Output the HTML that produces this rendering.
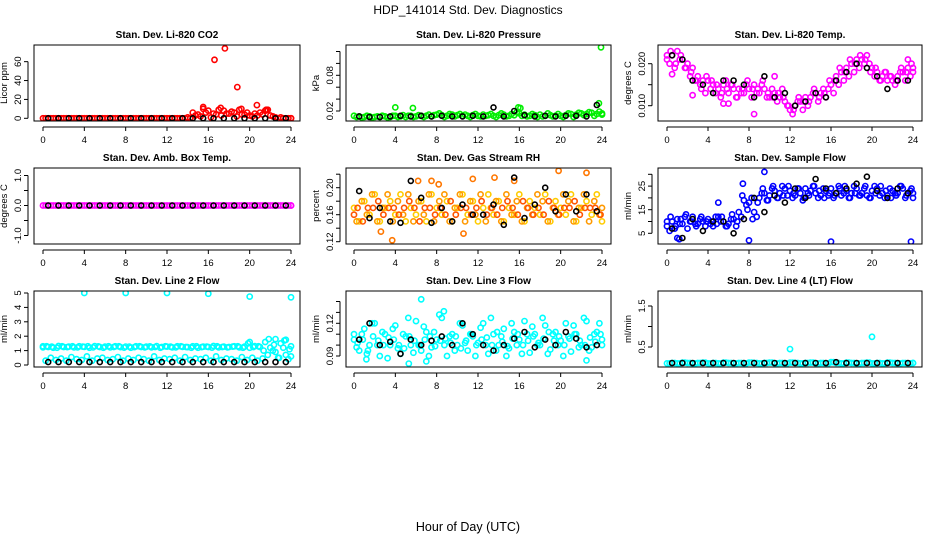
<!DOCTYPE html>
<html><head><meta charset="utf-8"><style>
body{margin:0;background:#fff;}
svg{display:block;font-family:"Liberation Sans",sans-serif;}
</style></head><body>
<svg id="chart" width="936" height="540" viewBox="0 0 936 540" xmlns="http://www.w3.org/2000/svg">
<text x="468" y="14" text-anchor="middle" font-size="12">HDP_141014  Std. Dev. Diagnostics</text>
<text x="468" y="531" text-anchor="middle" font-size="12.5">Hour of Day (UTC)</text>
<g id="plots"></g>
</svg>
<script>
const hours49=[0,0.5,1,1.5,2,2.5,3,3.5,4,4.5,5,5.5,6,6.5,7,7.5,8,8.5,9,9.5,10,10.5,11,11.5,12,12.5,13,13.5,14,14.5,15,15.5,16,16.5,17,17.5,18,18.5,19,19.5,20,20.5,21,21.5,22,22.5,23,23.5,24];
const hours24=[0.5,1.5,2.5,3.5,4.5,5.5,6.5,7.5,8.5,9.5,10.5,11.5,12.5,13.5,14.5,15.5,16.5,17.5,18.5,19.5,20.5,21.5,22.5,23.5];
const xTicks=[0,4,8,12,16,20,24];

// CO2
const co2A=[0,0,0,0,0,0,0,0,0,0,0,0,0,0,0,0,0,0,0,0,0,0,0,0,0,0,0,0,1,6,4,10,8,5,9,8,5,6,9,4,3,5,6,8,3,1,1,0,0];
const co2B=[0,0,0,0,0,0,0,0,0,0,0,0,0,0,0,0,0,0,0,0,0,0,0,0,0,0,0,0,0,3,2,6,1,4,3,5,7,2,4,6,2,3,4,9,2,0,0,0,0];
const co2OutT=[16.6,17.6,18.8,20.7,15.5,17.2,19.2,21.6];
const co2OutV=[62,74,33,14,12,11,10,9];
const co2Black=[0,0,0,0,0,0,0,0,0,0,0,0,0,0,0,0,0,0,0,0,0,0,0,0];
// Pressure
const presA=[0.012,0.011,0.010,0.011,0.010,0.010,0.011,0.010,0.012,0.011,0.010,0.012,0.011,0.012,0.012,0.011,0.014,0.013,0.012,0.014,0.013,0.012,0.012,0.013,0.012,0.014,0.013,0.012,0.013,0.014,0.012,0.013,0.016,0.014,0.012,0.013,0.014,0.012,0.013,0.012,0.012,0.013,0.015,0.014,0.016,0.015,0.017,0.015,0.016];
const presB=[0.010,0.009,0.012,0.009,0.011,0.012,0.009,0.012,0.010,0.013,0.012,0.010,0.013,0.010,0.014,0.013,0.016,0.010,0.015,0.011,0.015,0.014,0.010,0.015,0.011,0.012,0.015,0.010,0.016,0.011,0.015,0.018,0.012,0.011,0.015,0.010,0.011,0.016,0.011,0.015,0.010,0.016,0.010,0.017,0.013,0.018,0.012,0.019,0.014];
const presOutT=[4,5.7,15.9,16.1,23.9,23.7];
const presOutV=[0.026,0.025,0.026,0.025,0.127,0.033];
const presBlack=[0.011,0.010,0.010,0.011,0.012,0.011,0.012,0.011,0.012,0.011,0.011,0.012,0.011,0.026,0.011,0.020,0.013,0.011,0.012,0.011,0.012,0.012,0.011,0.030];
// Li-820 temp
const tempA=[0.021,0.022,0.023,0.021,0.020,0.019,0.017,0.016,0.016,0.015,0.014,0.015,0.013,0.014,0.014,0.013,0.014,0.015,0.013,0.014,0.012,0.013,0.012,0.011,0.009,0.010,0.011,0.012,0.012,0.013,0.013,0.012,0.015,0.017,0.018,0.019,0.020,0.021,0.021,0.022,0.019,0.018,0.017,0.016,0.016,0.017,0.018,0.019,0.018];
const tempB=[0.020,0.019,0.021,0.019,0.017,0.016,0.015,0.013,0.014,0.013,0.012,0.016,0.015,0.012,0.013,0.015,0.012,0.013,0.015,0.012,0.014,0.011,0.014,0.010,0.008,0.011,0.009,0.010,0.013,0.011,0.014,0.014,0.013,0.015,0.016,0.017,0.018,0.019,0.020,0.020,0.017,0.016,0.018,0.017,0.015,0.018,0.016,0.017,0.019];
const tempC=[0.022,0.023,0.020,0.022,0.019,0.018,0.016,0.014,0.017,0.016,0.015,0.013,0.014,0.015,0.012,0.014,0.016,0.014,0.014,0.016,0.013,0.012,0.013,0.012,0.010,0.009,0.012,0.011,0.011,0.014,0.012,0.013,0.016,0.016,0.019,0.018,0.021,0.020,0.022,0.021,0.018,0.019,0.016,0.018,0.017,0.016,0.019,0.018,0.020];
const tempOutT=[0.5,2.5,5.5,6,8.5,10.5,23.5];
const tempOutV=[0.0175,0.0125,0.0105,0.0105,0.008,0.017,0.021];
const tempBlack=[0.022,0.021,0.016,0.015,0.013,0.016,0.016,0.015,0.012,0.017,0.012,0.013,0.010,0.011,0.013,0.012,0.016,0.018,0.020,0.019,0.017,0.014,0.016,0.016];
// Amb box temp
const ambA=[0,0,0,0,0,0,0,0,0,0,0,0,0,0,0,0,0,0,0,0,0,0,0,0,0,0,0,0,0,0,0,0,0,0,0,0,0,0,0,0,0,0,0,0,0,0,0,0,0];
const ambBlack=[0,0,0,0,0,0,0,0,0,0,0,0,0,0,0,0,0,0,0,0,0,0,0,0];
// Gas stream RH
const rhA=[0.17,0.15,0.18,0.16,0.19,0.15,0.17,0.18,0.16,0.19,0.15,0.17,0.16,0.18,0.15,0.19,0.17,0.16,0.18,0.15,0.17,0.19,0.16,0.18,0.15,0.17,0.19,0.16,0.18,0.15,0.17,0.16,0.19,0.15,0.18,0.17,0.16,0.19,0.15,0.18,0.17,0.16,0.19,0.15,0.17,0.18,0.16,0.19,0.15];
const rhB=[0.15,0.18,0.16,0.19,0.15,0.17,0.19,0.15,0.18,0.16,0.19,0.15,0.18,0.16,0.19,0.15,0.18,0.19,0.15,0.17,0.19,0.15,0.18,0.16,0.19,0.15,0.17,0.18,0.15,0.19,0.16,0.18,0.15,0.17,0.16,0.19,0.18,0.15,0.17,0.16,0.19,0.18,0.15,0.17,0.19,0.15,0.18,0.16,0.17];
const rhC=[0.16,0.17,0.15,0.17,0.17,0.18,0.16,0.17,0.17,0.16,0.17,0.18,0.17,0.15,0.17,0.17,0.16,0.17,0.16,0.18,0.16,0.17,0.17,0.16,0.17,0.18,0.16,0.17,0.16,0.17,0.18,0.17,0.16,0.18,0.17,0.16,0.17,0.16,0.18,0.17,0.16,0.17,0.17,0.18,0.16,0.17,0.17,0.17,0.16];
const rhOutT=[3.7,7.5,8.2,11.5,13.6,15.5,19.8,22.5,6.2,2.6,10.6];
const rhOutV=[0.122,0.21,0.205,0.213,0.215,0.21,0.225,0.222,0.21,0.135,0.132];
const rhBlack=[0.195,0.155,0.17,0.15,0.148,0.21,0.185,0.148,0.17,0.15,0.175,0.16,0.16,0.175,0.145,0.215,0.155,0.175,0.2,0.165,0.19,0.165,0.19,0.165];
// Sample flow
const sfA=[8,10,11,9,7,12,9,10,11,8,12,10,9,11,14,19,18,14,20,22,21,23,22,24,23,21,22,24,23,22,21,23,24,22,21,23,22,24,22,21,23,24,22,21,23,22,24,22,20];
const sfB=[6,7,9,12,10,9,11,8,9,12,10,8,11,8,12,17,20,12,22,19,24,20,25,21,20,24,19,22,25,20,24,21,20,25,22,20,25,21,24,20,25,21,20,24,22,25,20,23,22];
const sfC=[10,12,8,11,13,10,8,12,10,10,9,12,8,13,10,21,15,11,18,24,19,25,20,21,25,22,24,20,21,25,23,20,22,21,24,25,20,22,21,25,20,22,25,23,20,21,25,21,24];
const sfOutT=[8,16,23.8,9.5,5,7.4,1,1.2];
const sfOutV=[2,1.5,1.5,31,18,26,3,2.5];
const sfBlack=[7,3,11,6,10,10,5,11,20,14,21,18,24,20,28,24,22,24,26,29,23,20,24,22];
// Line 2 flow
const l2A=[1.3,1.25,1.2,1.32,1.25,1.28,1.22,1.3,1.26,1.2,1.31,1.25,1.27,1.22,1.3,1.24,1.28,1.2,1.3,1.25,1.27,1.23,1.31,1.25,1.28,1.22,1.3,1.26,1.24,1.3,1.2,1.27,1.25,1.32,1.22,1.28,1.25,1.3,1.23,1.27,1.2,1.31,1.25,1.6,1.2,0.9,1.5,0.7,1.3];
const l2B=[0.3,0.5,0.35,0.45,0.3,0.55,0.4,0.35,0.6,0.3,0.45,0.5,0.35,0.4,0.55,0.3,0.45,0.35,0.5,0.4,0.3,0.6,0.35,0.45,0.4,0.5,0.3,0.55,0.35,0.45,0.4,0.5,0.3,0.6,0.35,0.45,0.4,0.3,0.55,0.35,0.5,0.3,0.45,0.7,1.0,0.5,1.2,0.4,0.6];
const l2C=[1.22,1.3,1.27,1.2,1.3,1.24,1.3,1.22,1.28,1.3,1.22,1.29,1.2,1.3,1.25,1.3,1.21,1.28,1.24,1.3,1.22,1.29,1.25,1.2,1.3,1.27,1.22,1.3,1.25,1.2,1.3,1.24,1.28,1.21,1.3,1.25,1.22,1.28,1.3,1.2,1.5,1.25,1.3,1.0,1.8,1.4,0.5,1.7,1.1];
const l2OutT=[4,8,12,16,20,24,20,22.5,23.5];
const l2OutV=[5,5,5,4.95,4.75,4.7,1.6,1.8,1.75];
const l2Black=[0.2,0.2,0.2,0.2,0.2,0.2,0.2,0.2,0.2,0.2,0.2,0.2,0.2,0.2,0.2,0.2,0.2,0.2,0.2,0.2,0.2,0.2,0.2,0.2];
// Line 3 flow
const l3A=[0.105,0.095,0.115,0.1,0.12,0.09,0.11,0.1,0.118,0.092,0.108,0.1,0.122,0.095,0.112,0.098,0.105,0.125,0.09,0.11,0.1,0.118,0.095,0.108,0.102,0.12,0.092,0.11,0.1,0.115,0.097,0.112,0.105,0.122,0.093,0.11,0.1,0.118,0.096,0.112,0.104,0.12,0.094,0.11,0.1,0.122,0.098,0.112,0.105];
const l3B=[0.098,0.11,0.092,0.12,0.1,0.112,0.088,0.115,0.097,0.11,0.125,0.093,0.1,0.117,0.09,0.112,0.128,0.1,0.108,0.095,0.12,0.102,0.11,0.09,0.116,0.1,0.125,0.095,0.108,0.09,0.12,0.1,0.092,0.11,0.117,0.1,0.125,0.092,0.11,0.1,0.09,0.108,0.118,0.098,0.125,0.095,0.11,0.12,0.1];
const l3C=[0.11,0.102,0.105,0.095,0.108,0.104,0.1,0.107,0.105,0.1,0.097,0.108,0.104,0.1,0.105,0.108,0.099,0.104,0.106,0.102,0.108,0.097,0.104,0.11,0.1,0.105,0.107,0.1,0.112,0.103,0.099,0.106,0.11,0.1,0.104,0.108,0.102,0.106,0.112,0.104,0.108,0.1,0.106,0.11,0.104,0.1,0.107,0.103,0.11];
const l3OutT=[6.5,5.3,8.7,7,1.2,22.5];
const l3OutV=[0.142,0.083,0.131,0.085,0.087,0.086];
const l3Black=[0.105,0.12,0.1,0.103,0.092,0.105,0.1,0.104,0.108,0.1,0.12,0.11,0.1,0.095,0.1,0.106,0.112,0.098,0.105,0.1,0.112,0.106,0.098,0.1];
// Line 4 flow
const l4A=[0.1,0.11,0.1,0.12,0.11,0.1,0.11,0.12,0.1,0.11,0.1,0.12,0.11,0.1,0.11,0.1,0.12,0.11,0.1,0.11,0.12,0.1,0.11,0.1,0.12,0.11,0.1,0.11,0.12,0.1,0.11,0.1,0.13,0.11,0.1,0.12,0.11,0.1,0.11,0.12,0.1,0.11,0.1,0.12,0.11,0.1,0.11,0.1,0.11];
const l4OutT=[4,12,20];
const l4OutV=[1.95,0.45,0.75];
const l4Black=[0.11,0.11,0.11,0.11,0.11,0.11,0.11,0.11,0.11,0.11,0.11,0.11,0.11,0.11,0.11,0.11,0.13,0.11,0.11,0.11,0.11,0.11,0.11,0.11];

const NS="http://www.w3.org/2000/svg";
const root=document.getElementById('plots');
function mk(tag,attrs,parent){const e=document.createElementNS(NS,tag);for(const k in attrs)e.setAttribute(k,attrs[k]);parent.appendChild(e);return e;}

const cols=[{l:34,r:300,x0:43,x1:291},{l:346,r:611,x0:354,x1:602},{l:658,r:922,x0:667,x1:913}];
const rows=[{t:45,b:121},{t:168,b:244},{t:291,b:367}];
// horizontal draw offsets (hours) for the cloud series, to spread overlapping samples
const shifts=[0,0.25,-0.15,0];

const panels=[
 {name:'co2',title:'Stan. Dev. Li-820 CO2',ylab:'Licor ppm',c:0,r:0,v0:0,p0:118.3,k:0.944,ticks:[0,20,40,60],labels:['0','20','40','60'],
  series:[[hours49,co2A,'#ff0000'],[hours49,co2B,'#ff0000'],[co2OutT,co2OutV,'#ff0000',1]],black:co2Black},
 {name:'pressure',title:'Stan. Dev. Li-820 Pressure',ylab:'kPa',c:1,r:0,v0:0.02,p0:111,k:595,ticks:[0.02,0.04,0.06,0.08,0.10,0.12],labels:['0.02','','','0.08','',''],
  series:[[hours49,presA,'#00ee00'],[hours49,presB,'#00ee00'],[presOutT,presOutV,'#00ee00',1]],black:presBlack},
 {name:'li820-temp',title:'Stan. Dev. Li-820 Temp.',ylab:'degrees C',c:2,r:0,v0:0.02,p0:63.7,k:4200,ticks:[0.010,0.015,0.020],labels:['0.010','','0.020'],
  series:[[hours49,tempA,'#ff00ff'],[hours49,tempB,'#ff00ff'],[hours49,tempC,'#ff00ff'],[tempOutT,tempOutV,'#ff00ff',1]],black:tempBlack},
 {name:'amb-box-temp',title:'Stan. Dev. Amb. Box Temp.',ylab:'degrees C',c:0,r:1,v0:0,p0:205.5,k:30,ticks:[-1,-0.5,0,0.5,1],labels:['-1.0','','0.0','','1.0'],
  series:[[hours49,ambA,'#ff00ff'],[hours49,ambA,'#ff00ff']],black:ambBlack},
 {name:'gas-stream-rh',title:'Stan. Dev. Gas Stream RH',ylab:'percent',c:1,r:1,v0:0.12,p0:241.7,k:675,ticks:[0.12,0.14,0.16,0.18,0.20,0.22],labels:['0.12','','0.16','','0.20',''],
  series:[[hours49,rhA,'#ffcc00'],[hours49,rhB,'#ff9900'],[hours49,rhC,'#ff5500'],[rhOutT,rhOutV,'#ff7700',1]],black:rhBlack},
 {name:'sample-flow',title:'Stan. Dev. Sample Flow',ylab:'ml/min',c:2,r:1,v0:5,p0:233.3,k:2.36,ticks:[5,10,15,20,25,30],labels:['5','','15','','25',''],
  series:[[hours49,sfA,'#0000ff'],[hours49,sfB,'#0000ff'],[hours49,sfC,'#0000ff'],[sfOutT,sfOutV,'#0000ff',1]],black:sfBlack},
 {name:'line2-flow',title:'Stan. Dev. Line 2 Flow',ylab:'ml/min',c:0,r:2,v0:0,p0:365,k:14.4,ticks:[0,1,2,3,4,5],labels:['0','1','2','3','4','5'],
  series:[[hours49,l2A,'#00ffff'],[hours49,l2B,'#00ffff'],[hours49,l2C,'#00ffff'],[l2OutT,l2OutV,'#00ffff',1]],black:l2Black},
 {name:'line3-flow',title:'Stan. Dev. Line 3 Flow',ylab:'ml/min',c:1,r:2,v0:0.09,p0:356,k:1090,ticks:[0.09,0.10,0.11,0.12,0.13,0.14],labels:['0.09','','','0.12','',''],
  series:[[hours49,l3A,'#00ffff'],[hours49,l3B,'#00ffff'],[hours49,l3C,'#00ffff'],[l3OutT,l3OutV,'#00ffff',1]],black:l3Black},
 {name:'line4-flow',title:'Stan. Dev. Line 4 (LT) Flow',ylab:'ml/min',c:2,r:2,v0:0.5,p0:347,k:41,ticks:[0.5,1.0,1.5],labels:['0.5','','1.5'],
  series:[[hours49,l4A,'#00ffff'],[hours49,l4A,'#00ffff'],[l4OutT,l4OutV,'#00ffff',1]],black:l4Black}
];

panels.forEach(p=>{
  const C=cols[p.c],R=rows[p.r];
  const xs=h=>C.x0+(h/24)*(C.x1-C.x0);
  const ys=v=>p.p0-(v-p.v0)*p.k;
  const g=mk('g',{},root);
  
  
  const clip='clip-'+p.name;
  const cp=mk('clipPath',{id:clip},g);
  mk('rect',{x:C.l,y:R.t,width:C.r-C.l,height:R.b-R.t},cp);
  const pts=mk('g',{'clip-path':'url(#'+clip+')'},g);
  
  
  p.series.forEach((s,si)=>{
    const T=s[0],V=s[1];
    const off=s[3]?0:shifts[si];
    for(let i=0;i<V.length;i++){
      const h=Math.min(24,Math.max(0,T[i]+off));
      const c=mk('circle',{cx:xs(h).toFixed(1),cy:ys(V[i]).toFixed(1),r:2.6,fill:'none',stroke:s[2],'stroke-width':1.6},pts);
      
      
    }
  });
  for(let i=0;i<p.black.length;i++){
    const c=mk('circle',{cx:xs(hours24[i]).toFixed(1),cy:ys(p.black[i]).toFixed(1),r:2.5,fill:'none',stroke:'#000','stroke-width':1.6},pts);
    
    
  }
  const box=mk('rect',{x:C.l,y:R.t,width:C.r-C.l,height:R.b-R.t,fill:'none',stroke:'#000','stroke-width':1},g);
  
  
  const t=mk('text',{x:(C.l+C.r)/2,y:R.t-7,'text-anchor':'middle','font-size':10,'font-weight':'bold'},g);
  t.textContent=p.title;
  
  
  mk('line',{x1:C.x0,x2:C.x1,y1:R.b+6,y2:R.b+6,stroke:'#000'},g);
  xTicks.forEach(h=>{
    const x=xs(h);
    mk('line',{x1:x,x2:x,y1:R.b+6,y2:R.b+10,stroke:'#000'},g);
    const tl=mk('text',{x:x,y:R.b+22,'text-anchor':'middle','font-size':9.5},g);
    tl.textContent=h;
    
    
  });
  const ax=C.l-6;
  const ty=p.ticks.map(ys);
  mk('line',{x1:ax,x2:ax,y1:Math.min(...ty),y2:Math.max(...ty),stroke:'#000'},g);
  p.ticks.forEach((v,i)=>{
    const y=ys(v);
    mk('line',{x1:ax-4,x2:ax,y1:y,y2:y,stroke:'#000'},g);
    if(p.labels[i]){
      const tl=mk('text',{x:ax-7,y:y,'text-anchor':'middle','font-size':9.5,transform:'rotate(-90 '+(ax-7)+' '+y+')'},g);
      tl.textContent=p.labels[i];
      
      
    }
  });
  const yl=mk('text',{x:C.l-27,y:(R.t+R.b)/2,'text-anchor':'middle','font-size':9.5,transform:'rotate(-90 '+(C.l-27)+' '+((R.t+R.b)/2)+')'},g);
  yl.textContent=p.ylab;
  
  
});
</script>
</body></html>
